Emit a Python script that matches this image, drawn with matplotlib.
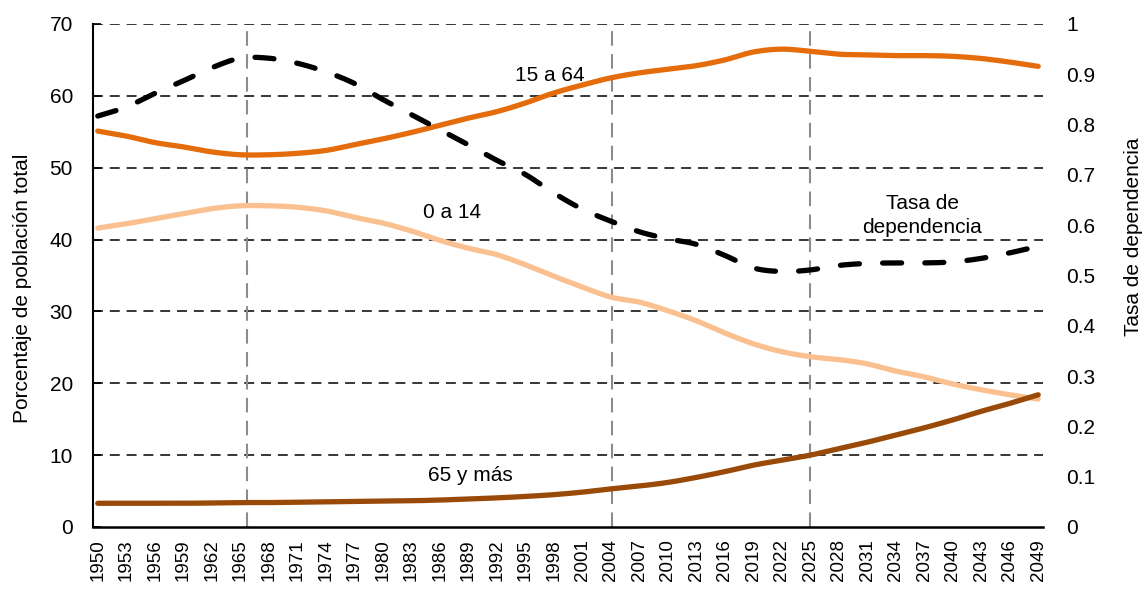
import numpy as np
import matplotlib
matplotlib.use("Agg")
import matplotlib.pyplot as plt

plt.rcParams['font.family'] = ['Liberation Sans', 'DejaVu Sans']

years = list(range(1950, 2050, 3))  # 1950 ... 2049

pop_15_64 = [55.1, 54.4, 53.5, 52.9, 52.2, 51.8, 51.8, 52.0, 52.4, 53.2, 54.0, 54.9,
             55.9, 56.9, 57.8, 59.0, 60.4, 61.5, 62.5, 63.2, 63.7, 64.2, 65.0, 66.1,
             66.5, 66.2, 65.8, 65.7, 65.6, 65.6, 65.5, 65.2, 64.7, 64.1]
pop_0_14 = [41.6, 42.2, 42.9, 43.6, 44.3, 44.7, 44.7, 44.5, 44.0, 43.1, 42.3, 41.2,
            39.9, 38.8, 37.9, 36.5, 34.9, 33.4, 32.0, 31.3, 30.1, 28.7, 27.0, 25.5,
            24.4, 23.7, 23.3, 22.7, 21.7, 20.9, 19.9, 19.1, 18.4, 17.8]
pop_65 = [3.3, 3.3, 3.3, 3.3, 3.35, 3.4, 3.4, 3.45, 3.5, 3.55, 3.6, 3.65,
          3.75, 3.9, 4.05, 4.25, 4.5, 4.85, 5.3, 5.7, 6.2, 6.9, 7.7, 8.6,
          9.3, 10.0, 10.9, 11.8, 12.8, 13.8, 14.9, 16.1, 17.2, 18.4]
dependency = [0.817, 0.835, 0.862, 0.887, 0.913, 0.932, 0.932, 0.922, 0.905, 0.882, 0.850, 0.820,
              0.790, 0.760, 0.729, 0.701, 0.664, 0.632, 0.608, 0.587, 0.573, 0.562, 0.540, 0.515,
              0.508, 0.511, 0.520, 0.524, 0.525, 0.525, 0.527, 0.534, 0.545, 0.558]
marker_years = [1965.7, 2004.1, 2025.0]

c_15_64 = '#E46C0A'
c_0_14 = '#FAC090'
c_65 = '#9A4A08'


def smooth(x, y, n=12):
    """Catmull-Rom spline through the points (rendering only)."""
    x = np.asarray(x, float)
    y = np.asarray(y, float)
    px = np.concatenate([[2 * x[0] - x[1]], x, [2 * x[-1] - x[-2]]])
    py = np.concatenate([[2 * y[0] - y[1]], y, [2 * y[-1] - y[-2]]])
    xs, ys = [], []
    t = np.linspace(0, 1, n, endpoint=False)
    for i in range(1, len(px) - 2):
        p0, p1, p2, p3 = py[i - 1], py[i], py[i + 1], py[i + 2]
        q0, q1, q2, q3 = px[i - 1], px[i], px[i + 1], px[i + 2]
        for a, b, c, d, out in ((q0, q1, q2, q3, xs), (p0, p1, p2, p3, ys)):
            out.extend(0.5 * ((2 * b) + (-a + c) * t + (2 * a - 5 * b + 4 * c - d) * t ** 2
                              + (-a + 3 * b - 3 * c + d) * t ** 3))
    xs.append(x[-1])
    ys.append(y[-1])
    return np.array(xs), np.array(ys)


fig = plt.figure(figsize=(11.47, 5.91), dpi=100)
ax = fig.add_axes([0.0811, 0.1083, 0.8282, 0.8511])
ax2 = ax.twinx()

ax.set_xlim(1949.5, 2049.5)
ax.set_ylim(0, 70)
ax2.set_ylim(0, 1)

# horizontal grid
for v in range(10, 71, 10):
    ax.axhline(v, color='black', lw=1.1, ls=(0, (6.5, 4.5)), zorder=1)

for xv in marker_years:
    ax.axvline(xv, color='#8C8C8C', lw=1.5, ls=(0, (7, 4)), zorder=1)

lw = 3.8
ax.plot(*smooth(years, pop_15_64), color=c_15_64, lw=lw, solid_capstyle='round', zorder=3)
ax.plot(*smooth(years, pop_0_14), color=c_0_14, lw=lw, solid_capstyle='round', zorder=3)
ax.plot(*smooth(years, pop_65), color=c_65, lw=lw, solid_capstyle='round', zorder=4)
ax2.plot(*smooth(years, dependency), color='black', lw=lw, ls=(0, (3.6, 4.4)),
         dash_capstyle='round', zorder=3)

fs = 15
ax.set_xticks(years)
ax.set_xticklabels([str(y) for y in years], rotation=90, fontsize=13.5)
ax.set_yticks(range(0, 71, 10))
ax.tick_params(axis='y', labelsize=fs, direction='in', length=6, width=1.2, pad=14.5)
ax.tick_params(axis='x', length=0, pad=9)
ax2.set_yticks(np.arange(0, 1.01, 0.1))
ax2.set_yticklabels(['0'] + [f'{v:.1f}' for v in np.arange(0.1, 0.95, 0.1)] + ['1'])
ax2.tick_params(axis='y', labelsize=fs, length=0, pad=16.5)

for a in (ax, ax2):
    a.spines['top'].set_visible(False)
    a.spines['right'].set_visible(False)
ax2.spines['left'].set_visible(False)
ax2.spines['bottom'].set_visible(False)
ax.spines['left'].set_linewidth(1.5)
ax.spines['bottom'].set_linewidth(1.8)

ax.set_ylabel('Porcentaje de población total', fontsize=fs)
ax.yaxis.set_label_coords(-0.064, 0.475)
ax2.set_ylabel('Tasa de dependencia', fontsize=fs)
ax2.yaxis.set_label_coords(1.0853, 0.577)

ax.text(1997.6, 62.8, '15 a 64', fontsize=fs, ha='center', va='center', zorder=5)
ax.text(1987.3, 43.7, '0 a 14', fontsize=fs, ha='center', va='center', zorder=5)
ax.text(1989.2, 7.2, '65 y más', fontsize=fs, ha='center', va='center', zorder=5)
ax.text(2036.8, 43.4, 'Tasa de\ndependencia', fontsize=fs, ha='center', va='center',
        linespacing=1.35, zorder=5)

fig.savefig('out.png', dpi=100)
